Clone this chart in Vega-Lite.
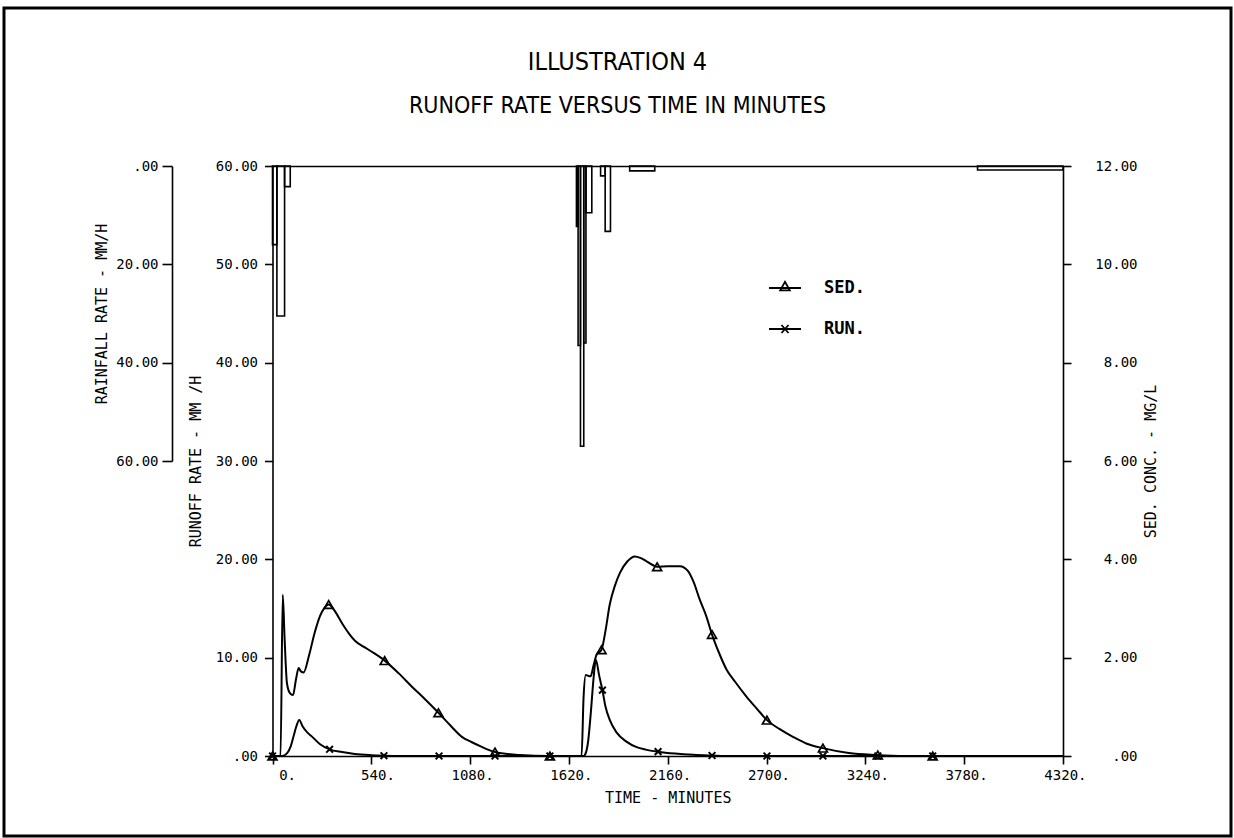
{
  "$schema": "https://vega.github.io/schema/vega-lite/v6.json",
  "autosize": {"type": "none"},
  "padding": {"left": 4, "top": 8, "right": 3, "bottom": 2},
  "background": "white",
  "width": 1227,
  "height": 828,
  "view": {"stroke": "black", "strokeWidth": 3},
  "datasets": {
    "sed": [
      {"t":0,"c":0},{"t":44,"c":0},{"t":56,"c":3.28},{"t":66,"c":2.4},{"t":79,"c":1.48},{"t":95,"c":1.28},{"t":112,"c":1.24},{"t":128,"c":1.55},{"t":143,"c":1.79},{"t":155,"c":1.72},{"t":170,"c":1.7},{"t":200,"c":2.05},{"t":230,"c":2.5},{"t":260,"c":2.85},{"t":285,"c":3.02},{"t":307,"c":3.08},{"t":340,"c":2.95},{"t":380,"c":2.7},{"t":420,"c":2.48},{"t":452,"c":2.34},{"t":500,"c":2.22},{"t":543,"c":2.12},{"t":613,"c":1.94},{"t":690,"c":1.68},{"t":762,"c":1.41},{"t":835,"c":1.15},{"t":907,"c":0.88},{"t":970,"c":0.63},{"t":1035,"c":0.39},{"t":1090,"c":0.28},{"t":1135,"c":0.2},{"t":1216,"c":0.08},{"t":1350,"c":0.02},{"t":1516,"c":0},{"t":1689,"c":0},{"t":1700,"c":1.2},{"t":1712,"c":1.65},{"t":1725,"c":1.63},{"t":1738,"c":1.62},{"t":1755,"c":1.85},{"t":1771,"c":2.06},{"t":1798,"c":2.16},{"t":1820,"c":2.55},{"t":1843,"c":3.08},{"t":1870,"c":3.45},{"t":1898,"c":3.72},{"t":1940,"c":3.96},{"t":1980,"c":4.06},{"t":2010,"c":4.03},{"t":2044,"c":3.96},{"t":2102,"c":3.85},{"t":2160,"c":3.86},{"t":2226,"c":3.86},{"t":2271,"c":3.76},{"t":2300,"c":3.55},{"t":2335,"c":3.18},{"t":2370,"c":2.85},{"t":2402,"c":2.47},{"t":2440,"c":2.1},{"t":2481,"c":1.76},{"t":2530,"c":1.5},{"t":2590,"c":1.21},{"t":2650,"c":0.95},{"t":2702,"c":0.73},{"t":2770,"c":0.55},{"t":2844,"c":0.39},{"t":2920,"c":0.25},{"t":3008,"c":0.16},{"t":3150,"c":0.06},{"t":3300,"c":0.02},{"t":3450,"c":0},{"t":4320,"c":0}
    ],
    "run": [
      {"t":0,"q":0},{"t":52,"q":0},{"t":80,"q":0.3},{"t":100,"q":1.0},{"t":115,"q":2.0},{"t":130,"q":3.0},{"t":146,"q":3.67},{"t":165,"q":3.0},{"t":190,"q":2.4},{"t":216,"q":1.97},{"t":260,"q":1.2},{"t":312,"q":0.68},{"t":380,"q":0.4},{"t":450,"q":0.2},{"t":540,"q":0.08},{"t":609,"q":0.03},{"t":700,"q":0},{"t":1700,"q":0},{"t":1707,"q":0.1},{"t":1725,"q":1.5},{"t":1740,"q":4.5},{"t":1755,"q":8.0},{"t":1767,"q":9.8},{"t":1785,"q":8.2},{"t":1803,"q":6.7},{"t":1820,"q":5.0},{"t":1843,"q":3.67},{"t":1880,"q":2.4},{"t":1934,"q":1.46},{"t":1990,"q":0.9},{"t":2040,"q":0.65},{"t":2107,"q":0.44},{"t":2200,"q":0.25},{"t":2300,"q":0.12},{"t":2402,"q":0.05},{"t":2500,"q":0},{"t":4320,"q":0}
    ],
    "sedm": [
      {"t":0,"c":0},{"t":307,"c":3.08},{"t":613,"c":1.94},{"t":907,"c":0.88},{"t":1216,"c":0.08},{"t":1516,"c":0},{"t":1798,"c":2.16},{"t":2102,"c":3.85},{"t":2402,"c":2.47},{"t":2702,"c":0.73},{"t":3008,"c":0.16},{"t":3308,"c":0.02},{"t":3608,"c":0}
    ],
    "runm": [
      {"t":0,"q":0},{"t":312,"q":0.68},{"t":609,"q":0.03},{"t":910,"q":0},{"t":1216,"q":0},{"t":1516,"q":0},{"t":1803,"q":6.7},{"t":2107,"q":0.44},{"t":2402,"q":0.05},{"t":2702,"q":0},{"t":3008,"q":0},{"t":3308,"q":0},{"t":3608,"q":0}
    ],
    "rain": [
      {"t0":0,"t1":24,"r":16},{"t0":24,"t1":66,"r":30.5},{"t0":66,"t1":97,"r":4.2},
      {"t0":1661,"t1":1670,"r":12.3},{"t0":1670,"t1":1683,"r":36.5},{"t0":1683,"t1":1701,"r":57},{"t0":1701,"t1":1713,"r":36},{"t0":1713,"t1":1745,"r":9.5},
      {"t0":1793,"t1":1818,"r":2},{"t0":1818,"t1":1847,"r":13.3},{"t0":1952,"t1":2089,"r":1.0},{"t0":3853,"t1":4320,"r":0.8}
    ]
  },
  "config": {
    "font": "DejaVu Sans Mono",
    "axis": {
      "labelFont": "DejaVu Sans Mono", "labelFontSize": 14, "labelColor": "black",
      "titleFont": "DejaVu Sans Mono", "titleFontSize": 15, "titleFontWeight": "normal", "titleColor": "black",
      "domainColor": "black", "domainWidth": 1.6, "tickColor": "black", "tickWidth": 1.6, "tickSize": 8,
      "grid": false, "labelFlush": false, "labelOverlap": false
    }
  },
  "title": {
    "text": "ILLUSTRATION 4",
    "subtitle": "RUNOFF RATE VERSUS TIME IN MINUTES",
    "anchor": "middle", "frame": "group", "offset": -110,
    "font": "Liberation Sans Narrow, DejaVu Sans Condensed, Liberation Sans",
    "fontSize": 25, "fontWeight": "normal", "color": "black",
    "subtitleFont": "Liberation Sans Narrow, DejaVu Sans Condensed, Liberation Sans",
    "subtitleFontSize": 23, "subtitleColor": "black", "subtitlePadding": 20
  },
  "resolve": {
    "scale": {"x": "independent", "y": "independent", "shape": "independent"},
    "axis": {"x": "independent", "y": "independent"}
  },
  "layer": [
    {
      "data": {"name": "rain"},
      "mark": {"type": "rect", "fill": "transparent", "stroke": "black", "strokeWidth": 1.6},
      "encoding": {
        "x": {"field": "t0", "type": "quantitative", "scale": {"domain": [0, 4320], "range": [268.5, 1059], "nice": false, "zero": false},
          "axis": {"orient": "bottom", "offset": -80, "values": [0,540,1080,1620,2160,2700,3240,3780,4320], "labelExpr": "datum.value + '.'", "labelAlign": "right", "labelOffset": 23, "labelPadding": 4, "title": "TIME - MINUTES", "titlePadding": 8}},
        "x2": {"field": "t1"},
        "y": {"field": "r", "type": "quantitative", "scale": {"domain": [0, 60], "range": [158, 453], "nice": false, "zero": false},
          "axis": {"orient": "left", "offset": -168, "values": [0, 20, 40, 60],
            "labelExpr": "datum.value == 0 ? '.00' : format(datum.value, '.2f')",
            "tickSize": 10, "labelPadding": 4, "title": "RAINFALL RATE - MM/H", "titlePadding": 6}},
        "y2": {"datum": 0}
      }
    },
    {
      "data": {"name": "run"},
      "mark": {"type": "line", "color": "black", "strokeWidth": 2, "interpolate": "monotone"},
      "encoding": {
        "x": {"field": "t", "type": "quantitative", "scale": {"domain": [0, 4320], "range": [268.5, 1059], "nice": false, "zero": false}, "axis": null},
        "y": {"field": "q", "type": "quantitative", "scale": {"domain": [0, 60], "range": [748, 158], "nice": false, "zero": false},
          "axis": {"orient": "left", "offset": -268.5, "values": [0,10,20,30,40,50,60], "labelExpr": "datum.value == 0 ? '.00' : format(datum.value, '.2f')", "labelPadding": 7, "title": "RUNOFF RATE - MM /H", "titlePadding": 12}}
      }
    },
    {
      "data": {"name": "runm"},
      "mark": {"type": "point", "shape": "M-1,-1L1,1M-1,1L1,-1", "size": 45, "filled": false, "stroke": "black", "strokeWidth": 2, "opacity": 1},
      "encoding": {
        "x": {"field": "t", "type": "quantitative", "scale": {"domain": [0, 4320], "range": [268.5, 1059], "nice": false, "zero": false}, "axis": null},
        "y": {"field": "q", "type": "quantitative", "scale": {"domain": [0, 60], "range": [748, 158], "nice": false, "zero": false}, "axis": null}
      }
    },
    {
      "data": {"name": "sed"},
      "mark": {"type": "line", "color": "black", "strokeWidth": 2, "interpolate": "monotone"},
      "encoding": {
        "x": {"field": "t", "type": "quantitative", "scale": {"domain": [0, 4320], "range": [268.5, 1059], "nice": false, "zero": false},
          "axis": {"orient": "top", "offset": -158, "labels": false, "ticks": false, "title": null, "domain": true}},
        "y": {"field": "c", "type": "quantitative", "scale": {"domain": [0, 12], "range": [748, 158], "nice": false, "zero": false},
          "axis": {"orient": "right", "offset": -168, "values": [0,2,4,6,8,10,12], "labelExpr": "datum.value == 0 ? '.00' : format(datum.value, '.2f')", "labelAlign": "right", "labelPadding": 66, "title": "SED. CONC. - MG/L", "titleAngle": 270, "titleBaseline": "top", "titlePadding": 6}}
      }
    },
    {
      "data": {"name": "sedm"},
      "mark": {"type": "point", "shape": "triangle-up", "size": 80, "filled": false, "stroke": "black", "strokeWidth": 1.7, "opacity": 1},
      "encoding": {
        "x": {"field": "t", "type": "quantitative", "scale": {"domain": [0, 4320], "range": [268.5, 1059], "nice": false, "zero": false}, "axis": null},
        "y": {"field": "c", "type": "quantitative", "scale": {"domain": [0, 12], "range": [748, 158], "nice": false, "zero": false}, "axis": null}
      }
    },
    {
      "data": {"values": []},
      "mark": {"type": "point", "filled": false, "stroke": "black", "strokeWidth": 1.8, "opacity": 1},
      "encoding": {
        "shape": {
          "field": "s", "type": "nominal",
          "scale": {"domain": ["SED.", "RUN."], "range": ["M-1,0L1,0M-0.3,0.15L0,-0.38L0.3,0.15Z", "M-1,0L1,0M-0.22,-0.25L0.22,0.25M-0.22,0.25L0.22,-0.25"]},
          "legend": {
            "title": null, "orient": "none", "legendX": 764, "legendY": 263,
            "symbolSize": 1024, "symbolStrokeColor": "black", "symbolFillColor": "transparent", "symbolStrokeWidth": 1.8, "symbolOpacity": 1,
            "labelFont": "DejaVu Sans Mono", "labelFontSize": 17, "labelFontWeight": "bold", "labelColor": "black",
            "labelOffset": 22, "rowPadding": 16, "padding": 0
          }
        }
      }
    }
  ]
}
